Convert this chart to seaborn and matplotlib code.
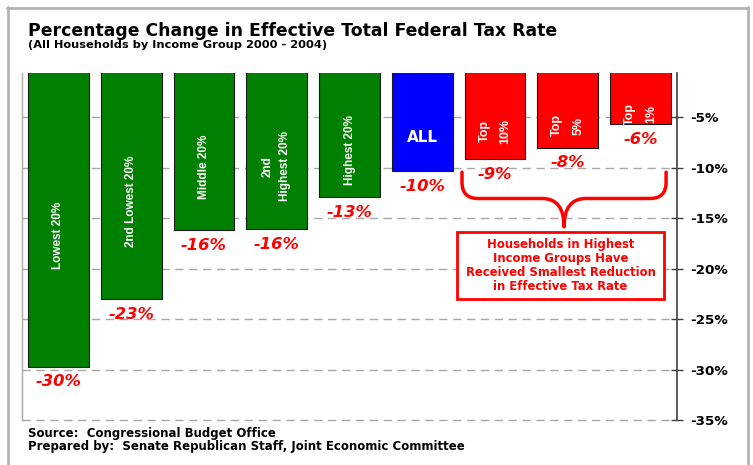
import matplotlib
matplotlib.use("Agg")
import matplotlib.pyplot as plt
from matplotlib.path import Path
from matplotlib.patches import PathPatch, Rectangle
from matplotlib.lines import Line2D
import seaborn as sns

# Percentage change in effective total federal tax rate, 2000-2004
groups = ["Lowest 20%", "2nd Lowest 20%", "Middle 20%", "2nd Highest 20%",
          "Highest 20%", "ALL", "Top 10%", "Top 5%", "Top 1%"]
inner_labels = ["Lowest 20%", "2nd Lowest 20%", "Middle 20%", "2nd\nHighest 20%",
                "Highest 20%", "ALL", "Top\n10%", "Top\n5%", "Top\n1%"]
pct_change = [-29.7, -23.0, -16.2, -16.1, -12.9, -10.3, -9.1, -8.0, -5.7]
bar_colors = ["#008000", "#008000", "#008000", "#008000", "#008000",
              "#0000ff", "#ff0000", "#ff0000", "#ff0000"]
y_ticks = [-35, -30, -25, -20, -15, -10, -5]
y_tick_labels = ["-35%", "-30%", "-25%", "-20%", "-15%", "-10%", "-5%"]

W, H = 753, 465
sns.set_style("white")
plt.rcParams["font.family"] = ["DejaVu Sans"]
plt.rcParams["text.color"] = "black"

fig = plt.figure(figsize=(W / 100, H / 100), dpi=100)


def fx(px):
    return px / W


def fy(py):
    return 1 - py / H


ax = fig.add_axes([fx(22), fy(420), fx(677) - fx(22), fy(73) - fy(420)])

sns.barplot(x=groups, y=pct_change, hue=groups, palette=bar_colors, legend=False,
            width=0.835, saturation=1, edgecolor="#1a1a1a", linewidth=0.8, ax=ax)

ax.set_xlim(-0.5, len(groups) - 0.5)
ax.set_ylim(-35, -0.6)
ax.set_xticks([])
ax.set_xlabel("")
ax.set_ylabel("")

# value axis on the right
ax.yaxis.tick_right()
ax.set_yticks(y_ticks)
ax.set_yticklabels(y_tick_labels, fontsize=9.7, fontweight="bold", color="black")
ax.tick_params(axis="y", which="both", direction="inout", length=9, width=1,
               color="#404040", pad=5, right=True, left=False)

ax.yaxis.grid(True, linestyle=(0, (6, 4)), color="#a8a8a8", linewidth=1)
for gl in ax.get_ygridlines():
    gl.set_clip_on(False)
ax.set_axisbelow(True)

for side in ["top", "bottom"]:
    ax.spines[side].set_visible(False)
ax.spines["left"].set_color("#a8a8a8")
ax.spines["left"].set_linewidth(1)
ax.spines["right"].set_color("#404040")
ax.spines["right"].set_linewidth(1.2)

top_val = ax.get_ylim()[1]

# group names inside the bars, value labels below them
for i, (name, v) in enumerate(zip(inner_labels, pct_change)):
    ymid = (v + top_val) / 2 - 1.5
    if name == "ALL":
        ax.text(i, ymid, name, color="white", fontsize=11, fontweight="bold",
                ha="center", va="center")
    elif name.startswith("Top"):
        ax.text(i, ymid, name, color="white", fontsize=9, fontweight="bold",
                rotation=90, ha="center", va="center", multialignment="center",
                linespacing=2.0, family=["Liberation Sans", "DejaVu Sans"])
    else:
        ax.text(i, ymid, name, color="white", fontsize=8.5, fontweight="bold",
                rotation=90, ha="center", va="center", multialignment="center",
                linespacing=1.6, family=["Liberation Sans Narrow", "Liberation Sans",
                                         "DejaVu Sans"])
    ax.annotate(f"{v:.0f}%", xy=(i, v), xytext=(0, -11), textcoords="offset points",
                ha="center", va="center", color="#ff0000", fontsize=11.8,
                fontweight="bold", fontstyle="oblique", annotation_clip=False)

# brace grouping the top income groups
x0, x1 = 5.546, 8.35
xc = (x0 + x1) / 2
y_end, y_bar, y_tip = -10.43, -13.04, -15.85
rx, ry = 0.22, 1.6
verts = [
    (x0, y_end), (x0, y_bar + ry),
    (x0, y_bar), (x0 + rx, y_bar),
    (xc - 0.3, y_bar),
    (xc, y_bar), (xc, y_tip),
    (xc, y_bar), (xc + 0.3, y_bar),
    (x1 - rx, y_bar),
    (x1, y_bar), (x1, y_bar + ry),
    (x1, y_end),
]
codes = [Path.MOVETO, Path.LINETO,
         Path.CURVE3, Path.CURVE3,
         Path.LINETO,
         Path.CURVE3, Path.CURVE3,
         Path.CURVE3, Path.CURVE3,
         Path.LINETO,
         Path.CURVE3, Path.CURVE3,
         Path.LINETO]
ax.add_patch(PathPatch(Path(verts, codes), fill=False, edgecolor="#ff0000",
                       linewidth=2.5, capstyle="round", joinstyle="round",
                       clip_on=False))

# callout box
fig.patches.append(Rectangle((fx(457), fy(299.3)), fx(664) - fx(457), fy(231.7) - fy(299.3),
                             transform=fig.transFigure, facecolor="white",
                             edgecolor="#ff0000", linewidth=2, zorder=5))
fig.text(fx(560.5), fy(265.5),
         "Households in Highest\nIncome Groups Have\nReceived Smallest Reduction\nin Effective Tax Rate",
         color="#ff0000", fontsize=8.4, fontweight="bold", ha="center", va="center",
         linespacing=1.1, zorder=6)

# titles and notes
fig.text(fx(28), fy(36), "Percentage Change in Effective Total Federal Tax Rate",
         fontsize=12.4, fontweight="bold", ha="left", va="baseline")
fig.text(fx(28), fy(47.5), "(All Households by Income Group 2000 - 2004)",
         fontsize=8.2, fontweight="bold", ha="left", va="baseline")
fig.text(fx(28), fy(436.5), "Source:  Congressional Budget Office",
         fontsize=8.5, fontweight="bold", ha="left", va="baseline")
fig.text(fx(28), fy(449.5), "Prepared by:  Senate Republican Staff, Joint Economic Committee",
         fontsize=8.5, fontweight="bold", ha="left", va="baseline")

# outer frame
frame_kw = dict(transform=fig.transFigure, color="#b4b4b4", linewidth=2)
fig.lines.append(Line2D([fx(8), fx(8)], [fy(7), fy(466)], **frame_kw))
fig.lines.append(Line2D([fx(7), fx(748)], [fy(8), fy(8)], **frame_kw))
fig.lines.append(Line2D([fx(748), fx(748)], [fy(7), fy(466)], **frame_kw))

fig.savefig("out.png", dpi=100)
